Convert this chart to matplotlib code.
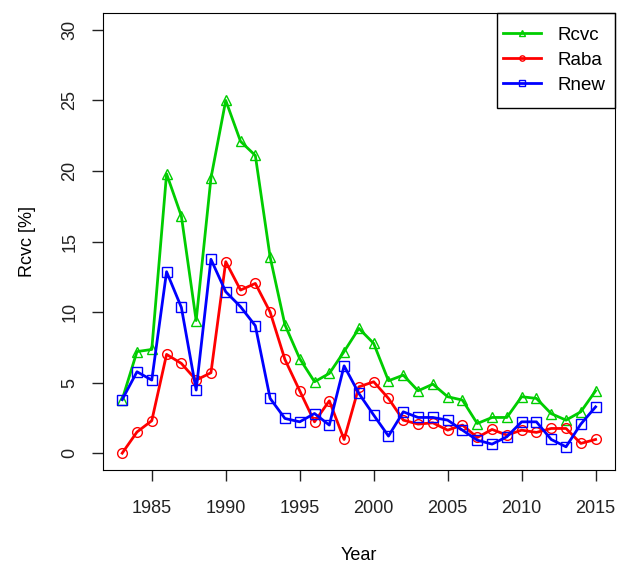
import numpy as np
import matplotlib.pyplot as plt
from matplotlib.patches import Rectangle

plt.rcParams['font.family'] = ['Liberation Sans', 'DejaVu Sans']

years = list(range(1983, 2016))
rcvc = [3.8, 7.2, 7.35, 19.8, 16.8, 9.4, 19.5, 25.0, 22.1, 21.1, 13.9,
        9.1, 6.7, 5.06, 5.65, 7.2, 8.84, 7.78, 5.13, 5.53, 4.42, 4.89,
        4.0, 3.76, 2.1, 2.53, 2.53, 4.0, 3.88, 2.8, 2.34, 2.93, 4.42]
raba = [0.0, 1.5, 2.3, 7.0, 6.36, 5.18, 5.7, 13.57, 11.56, 12.03, 10.0,
        6.64, 4.42, 2.22, 3.71, 0.97, 4.7, 5.06, 3.88, 2.34, 2.06, 2.15,
        1.63, 1.99, 1.11, 1.68, 1.28, 1.63, 1.47, 1.75, 1.75, 0.69, 0.97]
rnew = [3.8, 5.77, 5.18, 12.86, 10.33, 4.47, 13.74, 11.44, 10.38, 9.03, 3.88,
        2.46, 2.22, 2.81, 1.99, 6.19, 4.23, 2.7, 1.21, 2.93, 2.53, 2.53,
        2.34, 1.63, 0.92, 0.64, 1.16, 2.22, 2.22, 0.97, 0.45, 2.06, 3.28]

fig = plt.figure(figsize=(6.22, 5.65), dpi=100)
ax = fig.add_axes([0.166, 0.168, 0.822, 0.809])

style = dict(lw=2, ms=7, mfc='none', mew=1)
ax.plot(years, rcvc, color='#00CD00', marker='^', label='Rcvc', **style)
ax.plot(years, raba, color='#FF0000', marker='o', label='Raba', **style)
ax.plot(years, rnew, color='#0000FF', marker='s', label='Rnew', **style)

ax.set_xlim(1981.72, 2016.28)
ax.set_ylim(-1.2, 31.2)
ax.set_xticks(range(1985, 2016, 5))
ax.set_yticks(range(0, 31, 5))
ax.tick_params(labelsize=13, length=8, width=1, colors='#222222')
for lab in ax.get_yticklabels():
    lab.set_rotation(90)
    lab.set_va('center')
ax.tick_params(axis='x', pad=13.5)
ax.tick_params(axis='y', pad=10)
ax.set_xlabel('Year', fontsize=13, labelpad=22)
ax.set_ylabel('Rcvc [%]', fontsize=13, labelpad=18)

# R-style legend box: drawn frame, entries placed inside it
leg = ax.legend(loc='center left', bbox_to_anchor=(0.782, 0.897),
                frameon=False, borderpad=0, borderaxespad=0,
                fontsize=13.5, handlelength=2.0, handletextpad=0.9,
                markerscale=0.55, labelspacing=0.42)
ax.add_patch(Rectangle((0.770, 0.792), 0.230, 0.208, transform=ax.transAxes,
                       fill=False, lw=1, ec='black', clip_on=False, zorder=5))

fig.savefig('out.png', dpi=100)
